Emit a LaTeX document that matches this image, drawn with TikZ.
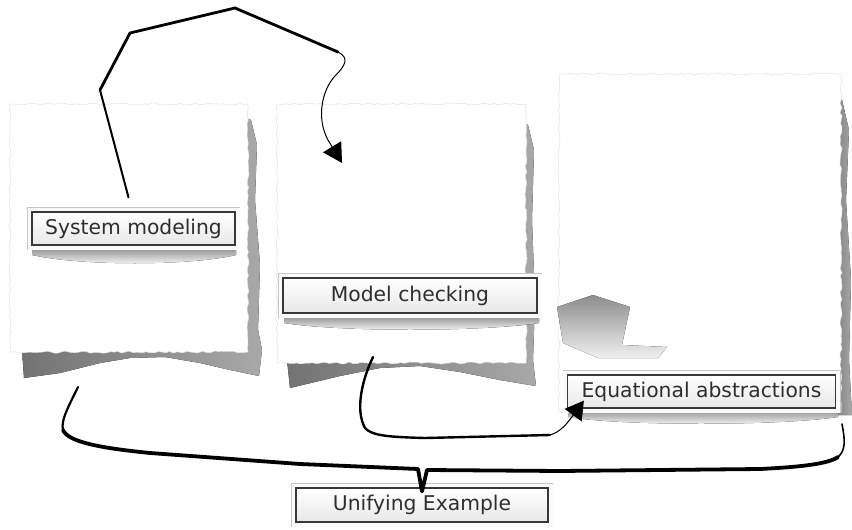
\documentclass[tikz,border=0pt]{standalone}
\usepackage{fontspec}
\newfontfamily\hand{DejaVu Sans}
\usetikzlibrary{arrows.meta,decorations.pathmorphing}

\begin{document}
\begin{tikzpicture}[x=1pt,y=-1pt,
  paper/.style={fill=white, draw=black!11, line width=0.5pt, decorate,
    decoration={random steps, segment length=4pt, amplitude=1.1pt}},
  papershadow/.style={left color=black!55, right color=black!34, draw=none},
  undershade/.style={top color=black!38, bottom color=white, draw=none},
  lbl/.style={draw=black!78, line width=1.3pt, top color=white, bottom color=black!9,
    inner sep=0pt, font=\hand\fontsize{20.3}{23}\selectfont, text=black!82,
    preaction={draw=black!22, line width=10pt},
    preaction={draw=black!2, line width=9pt}},
  link/.style={draw=black, line cap=round, line join=round},
  tipA/.style={-{Triangle[length=19pt,width=21pt]}},
  tipB/.style={-{Triangle[length=18pt,width=21pt]}}
]
\pgfmathsetseed{4711}
\useasboundingbox (0,0) rectangle (852,530);

% torn paper sheets with their drop shadows
\fill[papershadow] (240,115) -- (251,120) -- (257,145) -- (255,200) -- (260,265) -- (258,330)
  -- (262,350) -- (259,376) -- (230,370) -- (200,363) -- (165,357) -- (130,358) -- (100,363)
  -- (60,373) -- (24,378) -- (22,350) -- cycle;
\path[paper] (10,104) rectangle (248,352);

\fill[papershadow] (515,118) -- (528,125) -- (534,150) -- (532,220) -- (535,300) -- (533,360)
  -- (536,386) -- (500,380) -- (460,372) -- (420,366) -- (380,368) -- (340,376) -- (290,388)
  -- (287,360) -- cycle;
\path[paper] (277,104) rectangle (526,363);

\fill[papershadow] (830,95) -- (842,100) -- (849,130) -- (846,200) -- (851,280) -- (849,360)
  -- (852,415) -- (830,415) -- cycle;
\path[paper] (559,74) rectangle (841,412);

% grey patch on the third sheet
\fill[top color=black!45, bottom color=black!6] (557,307) -- (593,295) -- (630,307) -- (622,345)
  -- (667,347) -- (658,358) -- (598,358) -- (563,343) -- cycle;

% soft shadows under the labels
\fill[undershade] (32,250) -- (236,250) -- (236,255) .. controls (190,266) and (80,266) .. (32,255) -- cycle;
\fill[undershade] (284,318) -- (539,318) -- (539,323) .. controls (480,332) and (340,332) .. (284,323) -- cycle;
\fill[undershade] (568,412) -- (838,412) -- (838,417) .. controls (780,426) and (620,426) .. (568,417) -- cycle;

% labels
\node[lbl, minimum width=203pt, minimum height=33pt] (sm) at (133.5,228.5) {System modeling};
\node[lbl, minimum width=254pt, minimum height=35pt] (mc) at (410,295.5) {Model checking};
\node[lbl, minimum width=268pt, minimum height=33pt] (ea) at (701.5,391.5) {Equational abstractions};
\node[lbl, minimum width=252pt, minimum height=34pt] (ue) at (422,505) {Unifying Example};

% loose ends of the connectors
\coordinate (mcin) at (342,163);
\coordinate (mcout) at (373,357);
\coordinate (smout) at (78,387);
\coordinate (eaout) at (842,424);

% System modeling -> Model checking
\draw[link, line width=2pt] ([shift={(-5pt,14pt)}]sm.north) -- (100,90);
\draw[link, line width=2.8pt] (100,90) -- (130,33) -- (235,8) -- (338,52);
\draw[link, line width=1pt, tipA] (338,52) .. controls (350,58) and (345,66) .. (335,76)
  .. controls (322,90) and (316,118) .. (328,140) -- (mcin);

% Model checking -> Equational abstractions
\draw[link, line width=2.4pt] (mcout) .. controls (362,380) and (355,410) .. (365,428)
  .. controls (372,436) and (390,437) .. (425,438) -- (550,435);
\draw[link, line width=1pt, tipB] (550,435) .. controls (560,432) and (566,425) .. ([shift={(17pt,8pt)}]ea.south west);

% brace joining both sides into Unifying Example
\draw[link, line width=2.2pt] (smout) .. controls (72,400) and (60,420) .. (63,430);
\draw[link, line width=3.8pt] (63,430) .. controls (68,442) and (100,448) .. (150,453) -- (300,464)
  -- (418,469) -- ([yshift=-4pt]ue.north) -- (427,470) -- (560,471) -- (760,469)
  .. controls (800,467) and (828,464) .. (838,457);
\draw[link, line width=1.6pt] (838,457) .. controls (846,450) and (845,440) .. (eaout);
\end{tikzpicture}
\end{document}
